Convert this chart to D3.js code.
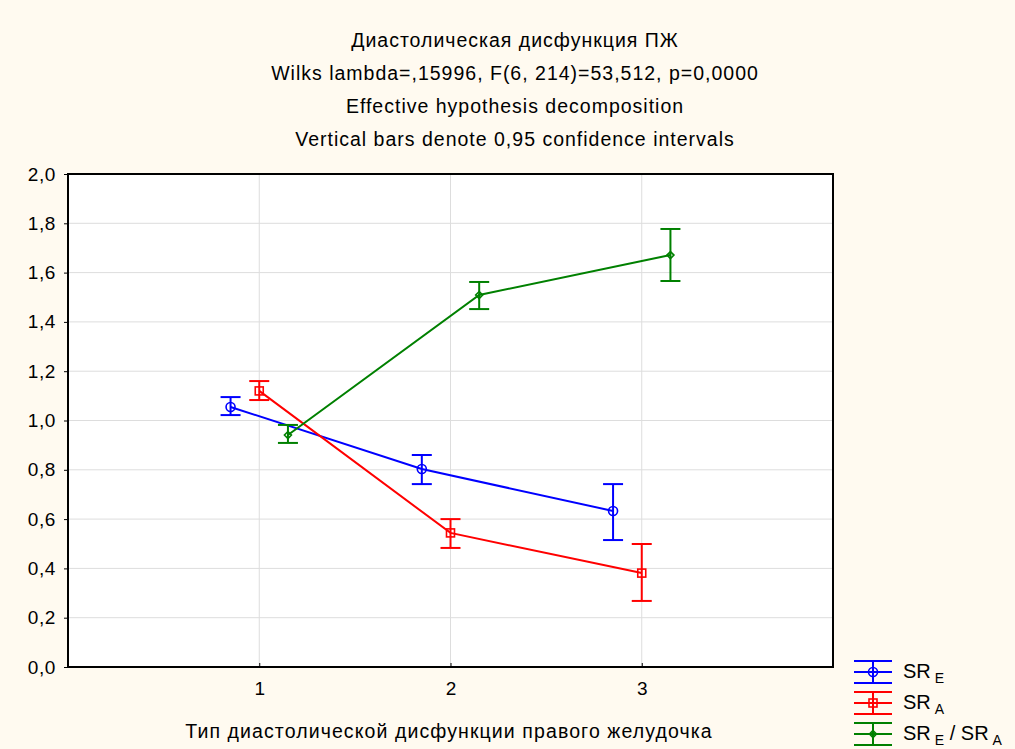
<!DOCTYPE html>
<html>
<head>
<meta charset="utf-8">
<script src="https://cdn.jsdelivr.net/npm/d3@7"></script>
<style>
  body { margin: 0; background: #fffaf0; }
  text { font-family: "Liberation Sans", Arial, sans-serif; fill: #000; }
</style>
</head>
<body>
<script>
const W = 1015, H = 749;

const titles = [
  "Диастолическая дисфункция ПЖ",
  "Wilks lambda=,15996, F(6, 214)=53,512, p=0,0000",
  "Effective hypothesis decomposition",
  "Vertical bars denote 0,95 confidence intervals"
];
const xLabel = "Тип диастолической дисфункции правого желудочка";
const categories = [1, 2, 3];
const yTicks = [0, 0.2, 0.4, 0.6, 0.8, 1.0, 1.2, 1.4, 1.6, 1.8, 2.0];

// means and 0.95 CI bounds
const srE     = [1.055, 0.803, 0.633];
const srELo   = [1.022, 0.742, 0.515];
const srEHi   = [1.095, 0.860, 0.742];
const srA     = [1.120, 0.544, 0.381];
const srALo   = [1.083, 0.483, 0.268];
const srAHi   = [1.160, 0.600, 0.499];
const ratio   = [0.941, 1.509, 1.671];
const ratioLo = [0.909, 1.452, 1.566];
const ratioHi = [0.982, 1.562, 1.777];

const series = [
  {label: ["SR", "E"], color: "#0000ff", shape: "circle", offset: -0.15, mean: srE, lo: srELo, hi: srEHi},
  {label: ["SR", "A"], color: "#ff0000", shape: "square", offset: 0, mean: srA, lo: srALo, hi: srAHi},
  {label: ["SR", "E", " / SR", "A"], color: "#008000", shape: "diamond", offset: 0.15, mean: ratio, lo: ratioLo, hi: ratioHi}
];

const m = {left: 68, right: 833, top: 174, bottom: 667};
const font = "Liberation Sans, Arial, sans-serif";

const svg = d3.select("body").append("svg").attr("width", W).attr("height", H);
svg.append("rect").attr("width", W).attr("height", H).attr("fill", "#fffaf0");

const x = d3.scaleLinear().domain([0, 4]).range([m.left, m.right]);
const y = d3.scaleLinear().domain([0, 2]).range([m.bottom, m.top]);

svg.append("rect")
  .attr("x", m.left).attr("y", m.top)
  .attr("width", m.right - m.left).attr("height", m.bottom - m.top)
  .attr("fill", "#fff");

// grid
svg.append("g").selectAll("line").data(yTicks.slice(1, -1)).join("line")
  .attr("x1", m.left).attr("x2", m.right)
  .attr("y1", d => y(d)).attr("y2", d => y(d))
  .attr("stroke", "#dddddd").attr("stroke-width", 1);
svg.append("g").selectAll("line").data(categories).join("line")
  .attr("y1", m.top).attr("y2", m.bottom)
  .attr("x1", d => x(d)).attr("x2", d => x(d))
  .attr("stroke", "#dddddd").attr("stroke-width", 1);

// axes
const yAxis = d3.axisLeft(y).tickValues(yTicks).tickSize(4).tickPadding(8)
  .tickFormat(d => d3.format(".1f")(d).replace(".", ","));
svg.append("g").attr("transform", `translate(${m.left},0)`).call(yAxis)
  .call(g => g.select(".domain").remove())
  .call(g => g.selectAll("text").attr("font-size", 19).attr("letter-spacing", 0.6).attr("font-family", font));

const xAxis = d3.axisBottom(x).tickValues(categories).tickSize(-4).tickPadding(15).tickFormat(d3.format("d"));
svg.append("g").attr("transform", `translate(0,${m.bottom})`).call(xAxis)
  .call(g => g.select(".domain").remove())
  .call(g => g.selectAll("text").attr("font-size", 19).attr("font-family", font));

svg.append("rect")
  .attr("x", m.left).attr("y", m.top)
  .attr("width", m.right - m.left).attr("height", m.bottom - m.top)
  .attr("fill", "none").attr("stroke", "#000").attr("stroke-width", 2);

// titles
svg.append("g").selectAll("text").data(titles).join("text")
  .attr("x", 515).attr("y", (d, i) => 47 + i * 33)
  .attr("text-anchor", "middle").attr("font-size", 19.5).attr("letter-spacing", 1.0)
  .text(d => d);

svg.append("text").attr("x", 449).attr("y", 738)
  .attr("text-anchor", "middle").attr("font-size", 19.5).attr("letter-spacing", 1.1).text(xLabel);

function marker(g, shape, color, cx, cy) {
  if (shape === "circle") {
    g.append("circle").attr("cx", cx).attr("cy", cy).attr("r", 4.5)
      .attr("fill", "none").attr("stroke", color).attr("stroke-width", 1.6);
  } else if (shape === "square") {
    g.append("rect").attr("x", cx - 4).attr("y", cy - 4).attr("width", 8).attr("height", 8)
      .attr("fill", "none").attr("stroke", color).attr("stroke-width", 1.6);
  } else {
    g.append("path").attr("d", `M${cx},${cy - 3.5}L${cx + 3.5},${cy}L${cx},${cy + 3.5}L${cx - 3.5},${cy}Z`)
      .attr("fill", "none").attr("stroke", color).attr("stroke-width", 1.6);
  }
}

const line = d3.line().x(d => x(d[0])).y(d => y(d[1]));
const capW = 10;

series.forEach(s => {
  const g = svg.append("g");
  const pts = categories.map((c, i) => [c + s.offset, s.mean[i]]);
  g.append("path").attr("d", line(pts)).attr("fill", "none")
    .attr("stroke", s.color).attr("stroke-width", 2);
  categories.forEach((c, i) => {
    const cx = x(c + s.offset);
    g.append("line").attr("x1", cx).attr("x2", cx)
      .attr("y1", y(s.lo[i])).attr("y2", y(s.hi[i]))
      .attr("stroke", s.color).attr("stroke-width", 2);
    [s.lo[i], s.hi[i]].forEach(v => {
      g.append("line").attr("x1", cx - capW).attr("x2", cx + capW)
        .attr("y1", y(v)).attr("y2", y(v))
        .attr("stroke", s.color).attr("stroke-width", 2);
    });
    marker(g, s.shape, s.color, cx, y(s.mean[i]));
  });
});

// legend
const leg = svg.append("g");
series.forEach((s, i) => {
  const cy = 672 + i * 31;
  const g = leg.append("g");
  [-11, 0, 11].forEach(dy => {
    g.append("line").attr("x1", 854).attr("x2", 892)
      .attr("y1", cy + dy).attr("y2", cy + dy)
      .attr("stroke", s.color).attr("stroke-width", 2);
  });
  g.append("line").attr("x1", 873).attr("x2", 873)
    .attr("y1", cy - 11).attr("y2", cy + 11)
    .attr("stroke", s.color).attr("stroke-width", 2);
  marker(g, s.shape, s.color, 873, cy);
  const t = g.append("text").attr("x", 903).attr("y", cy + 6).attr("font-size", 20);
  s.label.forEach((part, j) => {
    if (j % 2 === 0) t.append("tspan").attr("dy", j === 0 ? 0 : -5).text(part);
    else t.append("tspan").attr("dy", 5).attr("dx", 4).attr("font-size", 14).text(part);
  });
});
</script>
</body>
</html>
